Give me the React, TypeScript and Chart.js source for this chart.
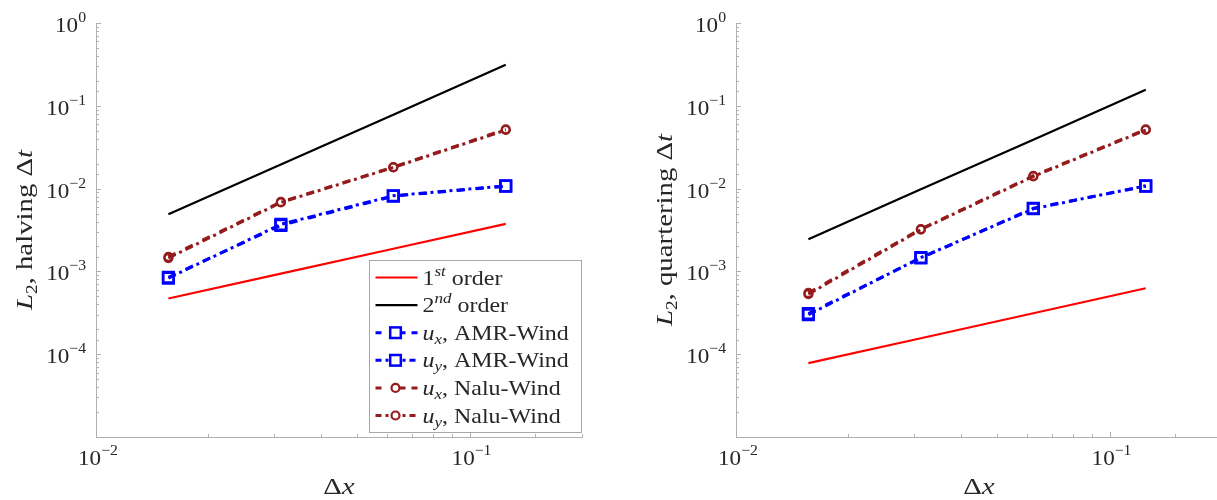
import React, { useEffect, useRef } from 'react';
import { Chart, registerables } from 'chart.js';

Chart.register(...registerables);

// ---- data ----
const dx = [0.015625, 0.03125, 0.0625, 0.125];
const xTickExps = [-2, -1];
const yTickExps = [0, -1, -2, -3, -4];

// left panel: halving Δt
const halvingFirst = [4.7e-4, 9.4e-4, 1.88e-3, 3.75e-3];
const halvingSecond = [4.9e-3, 1.95e-2, 7.8e-2, 0.3125];
const halvingAmrUx = [8.5e-4, 3.6e-3, 8.1e-3, 1.07e-2];
const halvingAmrUy = [8.3e-4, 3.7e-3, 8.2e-3, 1.08e-2];
const halvingNaluUx = [1.5e-3, 6.9e-3, 1.82e-2, 5.2e-2];
const halvingNaluUy = [1.45e-3, 6.8e-3, 1.8e-2, 5.1e-2];

// right panel: quartering Δt
const quarterFirst = [7.8e-5, 1.56e-4, 3.12e-4, 6.25e-4];
const quarterSecond = [2.44e-3, 9.8e-3, 3.9e-2, 0.156];
const quarterAmrUx = [3.1e-4, 1.45e-3, 5.8e-3, 1.07e-2];
const quarterAmrUy = [3.0e-4, 1.47e-3, 5.7e-3, 1.08e-2];
const quarterNaluUx = [5.5e-4, 3.25e-3, 1.43e-2, 5.2e-2];
const quarterNaluUy = [5.3e-4, 3.2e-3, 1.4e-2, 5.1e-2];

// ---- styles ----
const RED = '#ff0000';
const BLACK = '#000000';
const BLUE = '#0000ff';
const NALU = '#941c1c';
const AXIS = '#b0b0b0';
const TEXT = '#262626';
const SERIF = '"Liberation Serif", "DejaVu Serif", serif';
const DASH = [8, 11];
const DASHDOT = [8, 4, 3, 4];

type Run = { t: string; f: string; dy?: number };

function runsWidth(ctx: CanvasRenderingContext2D, runs: Run[], sx: number) {
  let w = 0;
  for (const r of runs) {
    ctx.font = r.f;
    w += ctx.measureText(r.t).width;
  }
  return w * sx;
}

function drawRuns(ctx: CanvasRenderingContext2D, runs: Run[], x: number, y: number, sx: number) {
  ctx.save();
  ctx.translate(x, y);
  ctx.scale(sx, 1);
  let cx = 0;
  for (const r of runs) {
    ctx.font = r.f;
    ctx.fillText(r.t, cx, r.dy || 0);
    cx += ctx.measureText(r.t).width;
  }
  ctx.restore();
}

const f = (size: number, italic = false) => `${italic ? 'italic ' : ''}${size}px ${SERIF}`;

const TICK_SX = 1.05;
const LEG_SX = 1.14;
const TITLE_SX = 1.2;

function powRuns(e: number): Run[] {
  const s = e < 0 ? '\u2212' + Math.abs(e) : String(e);
  return [
    { t: '10', f: f(22) },
    { t: s, f: f(15), dy: -10 },
  ];
}

function isMajor(v: number) {
  const l = Math.log10(v);
  return Math.abs(l - Math.round(l)) < 1e-9;
}

function pts(arr: number[]) {
  return arr.map((y, i) => ({ x: dx[i], y }));
}

function makeDatasets(first: number[], second: number[], aUx: number[], aUy: number[], nUx: number[], nUy: number[]) {
  const amr = {
    borderColor: BLUE,
    borderWidth: 3,
    pointStyle: 'rect',
    pointRadius: 7.5,
    pointBorderWidth: 2.5,
    pointBorderColor: BLUE,
    pointBackgroundColor: 'rgba(0,0,0,0)',
    fill: false,
    tension: 0,
  };
  const nalu = {
    borderColor: NALU,
    borderWidth: 3,
    pointStyle: 'circle',
    pointRadius: 4,
    pointBorderWidth: 2.2,
    pointBorderColor: NALU,
    pointBackgroundColor: 'rgba(0,0,0,0)',
    fill: false,
    tension: 0,
  };
  return [
    { label: '1st order', data: pts(first), borderColor: RED, borderWidth: 2.2, pointRadius: 0, fill: false },
    { label: '2nd order', data: pts(second), borderColor: BLACK, borderWidth: 2.2, pointRadius: 0, fill: false },
    { label: 'ux, AMR-Wind', data: pts(aUx), borderDash: DASH, ...amr },
    { label: 'uy, AMR-Wind', data: pts(aUy), borderDash: DASHDOT, ...amr },
    { label: 'ux, Nalu-Wind', data: pts(nUx), borderDash: DASH, ...nalu },
    { label: 'uy, Nalu-Wind', data: pts(nUy), borderDash: DASHDOT, ...nalu },
  ];
}

function makeDecor(word: string, showLegend: boolean) {
  return {
    id: 'decor',
    afterDraw(chart: any) {
      const ctx: CanvasRenderingContext2D = chart.ctx;
      const ca = chart.chartArea;
      const xs = chart.scales.x;
      const ys = chart.scales.y;
      ctx.save();
      ctx.strokeStyle = AXIS;
      ctx.lineWidth = 1;
      ctx.setLineDash([]);
      // y ticks (inward)
      for (const t of ys.ticks) {
        const p = ys.getPixelForValue(t.value);
        if (p < ca.top - 0.5 || p > ca.bottom + 0.5) continue;
        const len = isMajor(t.value) ? 5 : 3;
        const yy = Math.round(p) + 0.5;
        ctx.beginPath();
        ctx.moveTo(ca.left, yy);
        ctx.lineTo(ca.left + len, yy);
        ctx.stroke();
      }
      // x ticks (inward)
      for (const t of xs.ticks) {
        const p = xs.getPixelForValue(t.value);
        if (p < ca.left - 0.5 || p > ca.right + 0.5) continue;
        const len = isMajor(t.value) ? 5 : 3;
        const xx = Math.round(p) + 0.5;
        ctx.beginPath();
        ctx.moveTo(xx, ca.bottom);
        ctx.lineTo(xx, ca.bottom - len);
        ctx.stroke();
      }
      ctx.fillStyle = TEXT;
      ctx.textBaseline = 'alphabetic';
      ctx.textAlign = 'left';
      // y tick labels
      for (const e of yTickExps) {
        const p = ys.getPixelForValue(Math.pow(10, e));
        const runs = powRuns(e);
        const w = runsWidth(ctx, runs, TICK_SX);
        drawRuns(ctx, runs, ca.left - 10 - w, p + 9, TICK_SX);
      }
      // x tick labels
      for (const e of xTickExps) {
        const p = xs.getPixelForValue(Math.pow(10, e));
        const runs = powRuns(e);
        const w = runsWidth(ctx, runs, TICK_SX);
        drawRuns(ctx, runs, p - w / 2 + 2, ca.bottom + 28, TICK_SX);
      }
      // x title
      const xt: Run[] = [
        { t: '\u0394', f: f(24) },
        { t: 'x', f: f(24, true) },
      ];
      const xw = runsWidth(ctx, xt, TITLE_SX);
      drawRuns(ctx, xt, (ca.left + ca.right) / 2 - xw / 2, ca.bottom + 57, TITLE_SX);
      // y title
      const yt: Run[] = [
        { t: 'L', f: f(24, true) },
        { t: '2', f: f(16), dy: 5 },
        { t: ', ' + word + ' ', f: f(24) },
        { t: '\u0394', f: f(24) },
        { t: 't', f: f(24, true) },
      ];
      const yw = runsWidth(ctx, yt, TITLE_SX);
      ctx.save();
      ctx.translate(ca.left - 72, (ca.top + ca.bottom) / 2);
      ctx.rotate(-Math.PI / 2);
      drawRuns(ctx, yt, -yw / 2, 8, TITLE_SX);
      ctx.restore();

      if (showLegend) {
        const bx = Math.round(ca.right - 213) + 0.5;
        const bb = Math.round(ca.bottom - 5) + 0.5;
        const bw = 212;
        const bh = 172;
        const by = bb - bh;
        ctx.fillStyle = '#ffffff';
        ctx.fillRect(bx, by, bw, bh);
        ctx.strokeStyle = '#a8a8a8';
        ctx.lineWidth = 1;
        ctx.strokeRect(bx, by, bw, bh);
        const ds = chart.data.datasets;
        const legendDash = [[], [], [6, 18, 6], [6, 4, 3, 4], [6, 18, 6], [6, 4, 3, 4]];
        const labels: Run[][] = [
          [{ t: '1', f: f(21) }, { t: 'st', f: f(15, true), dy: -9 }, { t: ' order', f: f(21) }],
          [{ t: '2', f: f(21) }, { t: 'nd', f: f(15, true), dy: -9 }, { t: ' order', f: f(21) }],
          [{ t: 'u', f: f(21, true) }, { t: 'x', f: f(15, true), dy: 4 }, { t: ', AMR-Wind', f: f(21) }],
          [{ t: 'u', f: f(21, true) }, { t: 'y', f: f(15, true), dy: 4 }, { t: ', AMR-Wind', f: f(21) }],
          [{ t: 'u', f: f(21, true) }, { t: 'x', f: f(15, true), dy: 4 }, { t: ', Nalu-Wind', f: f(21) }],
          [{ t: 'u', f: f(21, true) }, { t: 'y', f: f(15, true), dy: 4 }, { t: ', Nalu-Wind', f: f(21) }],
        ];
        for (let i = 0; i < ds.length; i++) {
          const d = ds[i];
          const ry = by + 17 + i * 27.6;
          const lx0 = bx + 6;
          const lx1 = bx + 48;
          ctx.strokeStyle = d.borderColor;
          ctx.lineWidth = d.borderWidth;
          ctx.setLineDash(legendDash[i]);
          ctx.beginPath();
          ctx.moveTo(lx0, ry);
          ctx.lineTo(lx1, ry);
          ctx.stroke();
          ctx.setLineDash([]);
          const mx = bx + 26;
          if (d.pointRadius > 0) {
            ctx.lineWidth = d.pointBorderWidth;
            ctx.strokeStyle = d.pointBorderColor;
            ctx.fillStyle = '#ffffff';
            if (d.pointStyle === 'rect') {
              const side = d.pointRadius * Math.SQRT2;
              ctx.fillRect(mx - side / 2, ry - side / 2, side, side);
              ctx.strokeRect(mx - side / 2, ry - side / 2, side, side);
            } else {
              ctx.beginPath();
              ctx.arc(mx, ry, d.pointRadius, 0, Math.PI * 2);
              ctx.fill();
              ctx.stroke();
            }
          }
          ctx.fillStyle = TEXT;
          drawRuns(ctx, labels[i], bx + 53, ry + 7, LEG_SX);
        }
      }
      ctx.restore();
    },
  };
}

function Panel(props: { left: number; width: number; padLeft: number; padRight: number; word: string; legend: boolean; series: number[][] }) {
  const ref = useRef<HTMLCanvasElement | null>(null);
  useEffect(() => {
    if (!ref.current) return;
    const [a, b, c, d, e, g] = props.series;
    const chart = new Chart(ref.current, {
      type: 'line',
      data: { datasets: makeDatasets(a, b, c, d, e, g) as any },
      options: {
        animation: false,
        responsive: false,
        maintainAspectRatio: false,
        events: [],
        layout: { padding: { left: props.padLeft, right: props.padRight, top: 23, bottom: 63 } },
        plugins: { legend: { display: false }, tooltip: { enabled: false } },
        scales: {
          x: {
            type: 'logarithmic',
            min: 0.01,
            max: 0.2,
            ticks: { display: false },
            grid: { display: false },
            border: { display: true, color: AXIS, width: 1 },
            afterFit: (s: any) => {
              s.height = 0;
            },
          },
          y: {
            type: 'logarithmic',
            min: 1e-5,
            max: 1,
            ticks: { display: false },
            grid: { display: false },
            border: { display: true, color: AXIS, width: 1 },
            afterFit: (s: any) => {
              s.width = 0;
            },
          },
        },
      } as any,
      plugins: [makeDecor(props.word, props.legend) as any],
    });
    return () => chart.destroy();
  }, []);
  return (
    <canvas
      ref={ref}
      width={props.width}
      height={500}
      style={{ position: 'absolute', left: props.left, top: 0, width: props.width, height: 500 }}
    />
  );
}

export default function App() {
  return (
    <div style={{ position: 'fixed', left: 0, top: 0, width: 1217, height: 500, overflow: 'hidden', background: '#ffffff' }}>
      <Panel
        left={0}
        width={620}
        padLeft={96}
        padRight={38}
        word="halving"
        legend={true}
        series={[halvingFirst, halvingSecond, halvingAmrUx, halvingAmrUy, halvingNaluUx, halvingNaluUy]}
      />
      <Panel
        left={620}
        width={620}
        padLeft={116}
        padRight={18}
        word="quartering"
        legend={false}
        series={[quarterFirst, quarterSecond, quarterAmrUx, quarterAmrUy, quarterNaluUx, quarterNaluUy]}
      />
    </div>
  );
}
